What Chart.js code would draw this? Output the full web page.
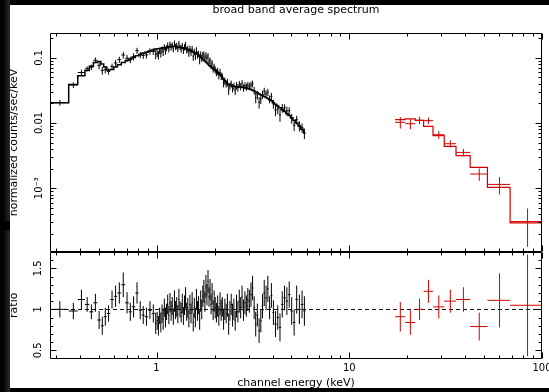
<!DOCTYPE html>
<html>
<head>
<meta charset="utf-8">
<script src="https://cdn.jsdelivr.net/npm/chart.js@4.4.1/dist/chart.umd.min.js"></script>
<style>
  html, body { margin: 0; padding: 0; background: #fff; overflow: hidden; width: 549px; height: 392px; }
  #page { position: relative; width: 549px; height: 392px; overflow: hidden; background: #fff; }
  canvas { position: absolute; left: 0; }
  #spec { top: 0; }
  #ratio { top: 252px; }
  .band { position: absolute; background: #000; }
</style>
</head>
<body>
<div id="page">
  <canvas id="spec" width="549" height="252" style="width:549px;height:252px"></canvas>
  <canvas id="ratio" width="549" height="140" style="width:549px;height:140px"></canvas>
  <div class="band" style="left:0;top:0;width:549px;height:5px"></div>
  <div class="band" style="left:0;top:388px;width:549px;height:4px"></div>
  <div class="band" style="left:0;top:0;width:10px;height:392px;background:linear-gradient(to right,#000 0,#000 3px,#2a2a2a 10px)"></div>
  <div class="band" style="left:0;top:221px;width:10px;height:9px"></div>
</div>
<script>
// XSPEC style plot: broad band spectrum (counts) + data/model ratio

const chartTitle = 'broad band average spectrum';
const countsTitle = 'normalized counts/sec/keV';
const ratioTitle = 'ratio';
const energyTitle = 'channel energy (keV)';

// low energy group (black): bin edges in keV, folded model, data/model ratio, ratio error
const blackEdges = [
  0.28, 0.35, 0.39, 0.425, 0.448, 0.47, 0.493, 0.514, 0.532, 0.552, 0.575, 0.60,
  0.626, 0.656, 0.688, 0.718, 0.744, 0.776, 0.808, 0.838, 0.868, 0.905, 0.944, 0.98,
  1.0, 1.015, 1.03, 1.045, 1.06, 1.075, 1.09, 1.105, 1.12, 1.135, 1.15, 1.166, 1.182,
  1.198, 1.214, 1.23, 1.247, 1.264, 1.281, 1.298, 1.315, 1.333, 1.351, 1.369, 1.387,
  1.405, 1.424, 1.443, 1.462, 1.481,
  1.50, 1.52, 1.54, 1.56, 1.58, 1.60, 1.621, 1.642, 1.663, 1.684, 1.705, 1.727, 1.749,
  1.771, 1.793, 1.815, 1.838, 1.861, 1.884, 1.907, 1.93, 1.954, 1.978,
  2.002, 2.03, 2.06, 2.09, 2.12, 2.15, 2.18, 2.21, 2.245, 2.28, 2.315, 2.35, 2.385,
  2.42, 2.46, 2.50, 2.54, 2.58, 2.62, 2.665, 2.71, 2.755, 2.80, 2.85, 2.90, 2.95,
  3.0, 3.06, 3.12, 3.18, 3.24, 3.30, 3.37, 3.44, 3.51, 3.58, 3.66, 3.74, 3.82, 3.90,
  3.99, 4.09, 4.2, 4.31, 4.43, 4.55, 4.68, 4.81, 4.95, 5.1, 5.25, 5.42, 5.6, 5.78, 5.92
];
const blackModel = [
  0.0205, 0.039, 0.053, 0.064, 0.074, 0.085, 0.088, 0.080, 0.072, 0.065, 0.066, 0.072,
  0.078, 0.085, 0.091, 0.096, 0.101, 0.107, 0.112, 0.117, 0.122, 0.127, 0.132, 0.136,
  0.137, 0.138, 0.139, 0.140, 0.141, 0.142, 0.143, 0.144, 0.145, 0.146, 0.147, 0.148,
  0.149, 0.150, 0.150, 0.150, 0.149, 0.148, 0.147, 0.146, 0.145, 0.143, 0.142, 0.141,
  0.139, 0.138, 0.136, 0.134, 0.132, 0.130,
  0.128, 0.126, 0.123, 0.121, 0.118, 0.116, 0.113, 0.110, 0.106, 0.102, 0.098, 0.095,
  0.092, 0.089, 0.086, 0.083, 0.080, 0.077, 0.074, 0.072, 0.070, 0.068, 0.066,
  0.064, 0.062, 0.060, 0.058, 0.056, 0.053, 0.050, 0.047, 0.044, 0.042, 0.040, 0.039,
  0.038, 0.0375, 0.037, 0.0366, 0.0363, 0.0361, 0.0359, 0.0357, 0.0355, 0.0353, 0.0350,
  0.0347, 0.0343, 0.0338,
  0.0333, 0.0325, 0.0317, 0.0309, 0.0300, 0.0290, 0.0281, 0.0272, 0.0264, 0.0255,
  0.0246, 0.0237, 0.0228, 0.0219,
  0.0204, 0.0193, 0.0182, 0.0171, 0.0160, 0.0150, 0.0140, 0.0130, 0.0120, 0.0110,
  0.0100, 0.0090, 0.0080, 0.0071
];
const blackRatio = [
  1.00, 0.98, 1.12, 1.06, 0.97, 1.08, 0.87, 0.80, 0.91, 0.95, 1.12, 1.16,
  1.20, 1.30, 1.08, 0.97, 1.03, 1.20, 0.99, 0.93, 0.91, 0.99, 0.95, 0.83,
  0.86, 0.80, 0.92, 0.84, 0.95, 0.88, 1.02, 0.90, 0.97, 1.06, 0.93, 1.08,
  0.98, 1.04, 0.91, 1.10, 0.99, 1.03, 0.94, 1.12, 1.00, 0.96, 1.07, 0.92,
  1.05, 1.14, 0.97, 1.02, 0.89, 1.06,
  0.95, 1.08, 0.84, 1.02, 0.90, 1.12, 0.98, 1.05, 0.87, 1.10, 1.00, 1.16,
  1.22, 1.09, 1.28, 1.18, 1.34, 1.15, 1.24, 1.06, 1.19, 0.99, 1.10,
  1.02, 0.96, 1.04, 0.92, 1.07, 0.99, 1.03, 0.88, 1.00, 0.95, 1.05, 0.82,
  0.98, 1.06, 0.93, 1.00, 0.86, 1.04, 0.97, 1.10, 1.02, 1.15, 0.99, 1.08, 1.04, 1.12,
  1.10, 1.18, 1.26, 1.02, 0.82, 0.93, 0.74, 0.86, 1.04, 1.20, 1.14, 1.25, 1.02, 1.17,
  0.96, 0.82, 0.90, 0.78, 1.06, 1.14, 1.10, 1.18, 0.98, 0.84, 1.12, 1.00, 1.06, 0.98
];
const blackErr = [
  0.10, 0.10, 0.12, 0.09, 0.09, 0.11, 0.11, 0.11, 0.11, 0.10, 0.11, 0.13,
  0.13, 0.15, 0.13, 0.11, 0.13, 0.13, 0.11, 0.11, 0.11, 0.11, 0.11, 0.13,
  0.11, 0.12, 0.10, 0.12, 0.11, 0.13, 0.11, 0.12, 0.10, 0.12, 0.11, 0.12,
  0.12, 0.11, 0.10, 0.13, 0.11, 0.12, 0.11, 0.13, 0.10, 0.12, 0.12, 0.11,
  0.12, 0.13, 0.11, 0.12, 0.11, 0.12,
  0.12, 0.13, 0.11, 0.12, 0.12, 0.13, 0.12, 0.11, 0.12, 0.13, 0.12, 0.13,
  0.14, 0.12, 0.14, 0.13, 0.14, 0.12, 0.13, 0.12, 0.13, 0.12, 0.13,
  0.13, 0.12, 0.13, 0.12, 0.14, 0.13, 0.12, 0.13, 0.13, 0.12, 0.14, 0.13,
  0.12, 0.13, 0.14, 0.13, 0.12, 0.14, 0.13, 0.14, 0.13, 0.14, 0.13, 0.14, 0.13, 0.14,
  0.14, 0.15, 0.15, 0.14, 0.15, 0.14, 0.15, 0.14, 0.15, 0.16, 0.15, 0.16, 0.14, 0.15,
  0.15, 0.16, 0.15, 0.17, 0.16, 0.15, 0.17, 0.16, 0.17, 0.16, 0.17, 0.18, 0.17, 0.18
];

// high energy group (red)
const redEdges = [17.3, 19.5, 22.0, 24.3, 27.2, 31.1, 35.8, 42.4, 52.1, 68.3, 100];
const redModel = [0.01125, 0.0116, 0.0110, 0.0089, 0.00641, 0.00437, 0.00316, 0.00209, 0.00103, 0.000293];
const redRatio = [0.91, 0.84, 1.00, 1.22, 1.03, 1.10, 1.12, 0.79, 1.11, 1.05];
const redErr = [0.18, 0.15, 0.13, 0.14, 0.14, 0.14, 0.15, 0.17, 0.33, 0.62];

// axes
const energyRange = [0.28, 100];
const countsRange = [1.05e-4, 0.24];
const ratioRange = [0.4, 1.7];
const xMajorTicks = [1, 10, 100];
const xMajorLabels = ['1', '10', '100'];
const xMinorTicks = [0.3, 0.4, 0.5, 0.6, 0.7, 0.8, 0.9, 2, 3, 4, 5, 6, 7, 8, 9, 20, 30, 40, 50, 60, 70, 80, 90];
const countsMajorTicks = [0.001, 0.01, 0.1];
const countsMajorLabels = ['10\u207B\u00B3', '0.01', '0.1'];
const countsMinorTicks = [2e-4, 3e-4, 4e-4, 5e-4, 6e-4, 7e-4, 8e-4, 9e-4,
  0.002, 0.003, 0.004, 0.005, 0.006, 0.007, 0.008, 0.009,
  0.02, 0.03, 0.04, 0.05, 0.06, 0.07, 0.08, 0.09, 0.2];
const ratioMajorTicks = [0.5, 1, 1.5];
const ratioMajorLabels = ['0.5', '1', '1.5'];
const ratioMinorTicks = [0.6, 0.7, 0.8, 0.9, 1.1, 1.2, 1.3, 1.4, 1.6];

const FONT = 'DejaVu Sans';
const BLACK = '#000000';
const RED = '#d40000';

Chart.defaults.font.family = FONT;
Chart.defaults.color = BLACK;

// model as a histogram: one flat segment per bin
function histogram(edges, model) {
  const pts = [];
  model.forEach((m, i) => {
    pts.push({ x: edges[i], y: m }, { x: edges[i + 1], y: m });
  });
  return pts;
}

// data crosses; in the counts panel the data is ratio * model
function crosses(edges, model, ratio, err, asRatio) {
  return ratio.map((r, i) => {
    const m = asRatio ? 1 : model[i];
    return {
      x: (edges[i] + edges[i + 1]) / 2,
      y: r * m,
      xMin: edges[i],
      xMax: edges[i + 1],
      yMin: (r - err[i]) * m,
      yMax: (r + err[i]) * m
    };
  });
}

const errorBars = {
  id: 'errorBars',
  afterDatasetsDraw(chart) {
    const { ctx, chartArea: a, scales: { x, y } } = chart;
    ctx.save();
    ctx.beginPath();
    ctx.rect(a.left, a.top, a.right - a.left, a.bottom - a.top);
    ctx.clip();
    chart.data.datasets.forEach(ds => {
      if (!ds.errorBars) return;
      ctx.strokeStyle = ds.borderColor;
      ctx.lineWidth = 1;
      ctx.beginPath();
      ds.data.forEach(p => {
        const px = x.getPixelForValue(p.x);
        const py = y.getPixelForValue(p.y);
        ctx.moveTo(x.getPixelForValue(p.xMin), py);
        ctx.lineTo(x.getPixelForValue(p.xMax), py);
        ctx.moveTo(px, y.getPixelForValue(p.yMin));
        ctx.lineTo(px, y.getPixelForValue(p.yMax));
      });
      ctx.stroke();
    });
    ctx.restore();
  }
};

// box round the panel, inward ticks on all four sides, dashed unity line
const frameTicks = {
  id: 'frameTicks',
  beforeDatasetsDraw(chart, args, opts) {
    if (opts.unity === undefined) return;
    const { ctx, chartArea: a, scales: { y } } = chart;
    const py = Math.round(y.getPixelForValue(opts.unity)) + 0.5;
    ctx.save();
    ctx.strokeStyle = '#111';
    ctx.lineWidth = 1;
    ctx.setLineDash([4, 3]);
    ctx.beginPath();
    ctx.moveTo(a.left, py);
    ctx.lineTo(a.right, py);
    ctx.stroke();
    ctx.restore();
  },
  afterDraw(chart, args, opts) {
    const { ctx, chartArea: a, scales: { x, y } } = chart;
    const L = Math.round(a.left) + 0.5;
    const R = Math.round(a.right) - 0.5;
    const T = Math.round(a.top) + 0.5;
    const B = Math.round(a.bottom) - 0.5;
    ctx.save();
    ctx.strokeStyle = BLACK;
    ctx.lineWidth = 1;
    ctx.beginPath();
    ctx.rect(L, T, R - L, B - T);
    const xt = (vals, len) => vals.forEach(v => {
      const px = Math.round(x.getPixelForValue(v)) + 0.5;
      ctx.moveTo(px, T); ctx.lineTo(px, T + len);
      ctx.moveTo(px, B); ctx.lineTo(px, B - len);
    });
    const yt = (vals, len) => vals.forEach(v => {
      const py = Math.round(y.getPixelForValue(v)) + 0.5;
      ctx.moveTo(L, py); ctx.lineTo(L + len, py);
      ctx.moveTo(R, py); ctx.lineTo(R - len, py);
    });
    xt(xMajorTicks, 6);
    xt(xMinorTicks, 3);
    yt(opts.yMajor, 6);
    yt(opts.yMinor, 3);
    ctx.stroke();
    ctx.restore();
  }
};

function fixedTicks(values) {
  return scale => { scale.ticks = values.map(v => ({ value: v })); };
}

function labelFor(values, labels) {
  return v => {
    const i = values.indexOf(v);
    return i < 0 ? '' : labels[i];
  };
}

const baseOptions = {
  responsive: false,
  animation: false,
  events: [],
  layout: { padding: { left: 0, right: 7, top: 0, bottom: 0 } }
};

new Chart(document.getElementById('spec'), {
  type: 'scatter',
  data: {
    datasets: [
      { data: histogram(blackEdges, blackModel), showLine: true, borderColor: BLACK, borderWidth: 1.5, pointRadius: 0 },
      { data: crosses(blackEdges, blackModel, blackRatio, blackErr, false), errorBars: true, borderColor: BLACK, pointRadius: 0 },
      { data: histogram(redEdges, redModel), showLine: true, borderColor: RED, borderWidth: 1.2, pointRadius: 0 },
      { data: crosses(redEdges, redModel, redRatio, redErr, false), errorBars: true, borderColor: RED, pointRadius: 0 }
    ]
  },
  options: {
    ...baseOptions,
    plugins: {
      legend: { display: false },
      tooltip: { enabled: false },
      title: {
        display: true,
        text: chartTitle,
        fullSize: false,
        color: BLACK,
        font: { family: FONT, size: 11, weight: 'normal' },
        padding: { top: 4, bottom: 15.8 }
      },
      frameTicks: { yMajor: countsMajorTicks, yMinor: countsMinorTicks }
    },
    scales: {
      x: { type: 'logarithmic', min: energyRange[0], max: energyRange[1], bounds: 'data', display: false },
      y: {
        type: 'logarithmic',
        min: countsRange[0],
        max: countsRange[1],
        bounds: 'data',
        grid: { display: false, drawTicks: false },
        border: { display: false },
        afterBuildTicks: fixedTicks(countsMajorTicks),
        ticks: {
          autoSkip: false, minRotation: 90, maxRotation: 90, crossAlign: 'center', padding: -1,
          color: BLACK, font: { family: FONT, size: 10 },
          callback: labelFor(countsMajorTicks, countsMajorLabels)
        },
        title: {
          display: true, text: countsTitle, color: BLACK,
          font: { family: FONT, size: 11 }, padding: { top: 7.5, bottom: 0 }
        },
        afterFit: s => { s.width = 50; s.paddingTop = 0; s.paddingBottom = 0; }
      }
    }
  },
  plugins: [errorBars, frameTicks]
});

new Chart(document.getElementById('ratio'), {
  type: 'scatter',
  data: {
    datasets: [
      { data: crosses(blackEdges, blackModel, blackRatio, blackErr, true), errorBars: true, borderColor: BLACK, pointRadius: 0 },
      { data: crosses(redEdges, redModel, redRatio, redErr, true), errorBars: true, borderColor: RED, pointRadius: 0 }
    ]
  },
  options: {
    ...baseOptions,
    plugins: {
      legend: { display: false },
      tooltip: { enabled: false },
      frameTicks: { yMajor: ratioMajorTicks, yMinor: ratioMinorTicks, unity: 1 }
    },
    scales: {
      x: {
        type: 'logarithmic',
        min: energyRange[0],
        max: energyRange[1],
        bounds: 'data',
        grid: { display: false, drawTicks: false },
        border: { display: false },
        afterBuildTicks: fixedTicks(xMajorTicks),
        ticks: {
          autoSkip: false, minRotation: 0, maxRotation: 0, padding: 4,
          color: BLACK, font: { family: FONT, size: 10 },
          callback: labelFor(xMajorTicks, xMajorLabels)
        },
        title: {
          display: true, text: energyTitle, color: BLACK,
          font: { family: FONT, size: 11 }, padding: { top: 0, bottom: 2.4 }
        },
        afterFit: s => { s.height = 33.5; s.paddingLeft = 0; s.paddingRight = 0; }
      },
      y: {
        type: 'linear',
        min: ratioRange[0],
        max: ratioRange[1],
        bounds: 'data',
        grid: { display: false, drawTicks: false },
        border: { display: false },
        afterBuildTicks: fixedTicks(ratioMajorTicks),
        ticks: {
          autoSkip: false, minRotation: 90, maxRotation: 90, crossAlign: 'center', padding: 3.5,
          color: BLACK, font: { family: FONT, size: 10 },
          callback: labelFor(ratioMajorTicks, ratioMajorLabels)
        },
        title: {
          display: true, text: ratioTitle, color: BLACK,
          font: { family: FONT, size: 11 }, padding: { top: 7.5, bottom: 0 }
        },
        afterFit: s => { s.width = 50; s.paddingTop = 0; s.paddingBottom = 0; }
      }
    }
  },
  plugins: [errorBars, frameTicks]
});
</script>
</body>
</html>
